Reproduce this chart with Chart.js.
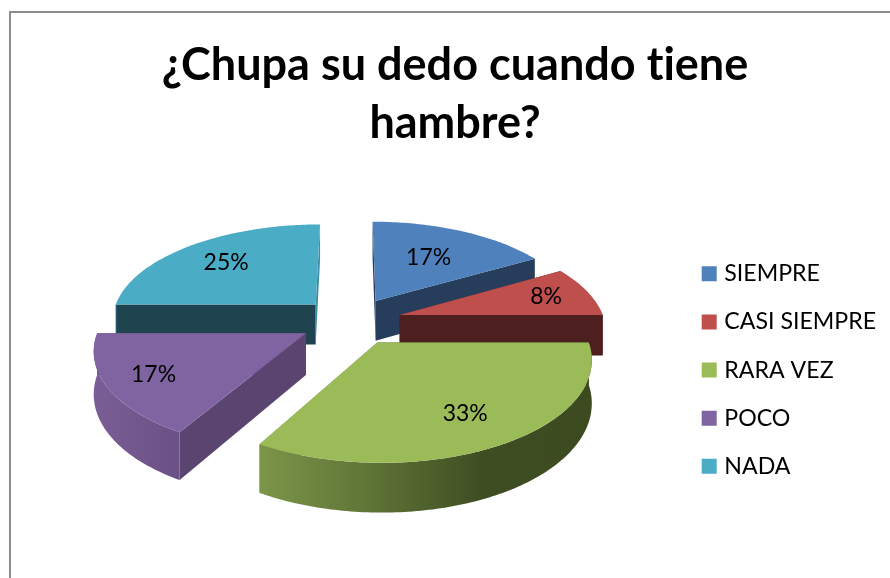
<!DOCTYPE html>
<html>
<head>
<meta charset="utf-8">
<style>html,body{margin:0;padding:0;background:#fff}canvas{display:block}</style>
<script src="https://cdn.jsdelivr.net/npm/chart.js@4/dist/chart.umd.min.js"></script>
</head>
<body>
<div style="width:890px;height:578px"><canvas id="c" width="890" height="578"></canvas></div>
<script>
const categories = ["SIEMPRE", "CASI SIEMPRE", "RARA VEZ", "POCO", "NADA"];
const counts = [2, 1, 4, 2, 3];
const titleLines = ["¿Chupa su dedo cuando tiene", "hambre?"];

const topColors = ["#4F81BD", "#BE4F4C", "#9BBB59", "#8064A2", "#4BACC6"];
const startCutColors = ["#263E5C", "#5A2422", "#4B5C2B", "#5A4470", "#1F4450"];
const endCutColors = ["#263E5C", "#4D1F1E", "#7C9549", "#5A4470", "#3F8EA5"];
const rimStops = [
  ["#263E5C", "#263E5C"],
  ["#5A2422", "#5A2422"],
  ["#7C9549", "#5F7436", "#3F4E22", "#3D4A20"],
  ["#7A5E96", "#6A5084"],
  ["#3F8EA5", "#3F8EA5"]
];
const labelRadii = [0.59, 0.775, 0.73, 0.78, 0.695];

const SCENE = { radius: 205, tilt: 0.469, persp: 0.000706, depth: 41, dx: -1.5, dy: -49 };

function project(sc, X, Y, z) {
  const s = 1 / (1 - SCENE.persp * Y);
  return [sc.cx + X * s, sc.cy + (SCENE.tilt * Y + z) * s];
}
function poly(ctx, pts, fill) {
  ctx.beginPath();
  pts.forEach((p, i) => i ? ctx.lineTo(p[0], p[1]) : ctx.moveTo(p[0], p[1]));
  ctx.closePath();
  ctx.fillStyle = fill;
  ctx.fill();
}

const framePlugin = {
  id: "frame",
  beforeDraw(chart) {
    const ctx = chart.ctx;
    ctx.letterSpacing = "0.01px";
    ctx.save();
    ctx.strokeStyle = "#8C8C8C";
    ctx.lineWidth = 2;
    ctx.beginPath();
    ctx.moveTo(10, 578);
    ctx.lineTo(10, 12);
    ctx.lineTo(890, 12);
    ctx.stroke();
    ctx.restore();
  }
};

const pie3d = {
  id: "pie3d",
  beforeDatasetDraw(chart) {
    const ctx = chart.ctx;
    const arcs = chart.getDatasetMeta(0).data;
    const total = counts.reduce((a, b) => a + b, 0);
    const items = arcs.map((arc, i) => {
      const k = SCENE.radius / arc.outerRadius;
      const d = arc.options.offset * k;
      const mid = (arc.startAngle + arc.endAngle) / 2;
      return { i, arc, mid, r: arc.outerRadius * k,
        ox: Math.cos(mid) * d, oy: Math.sin(mid) * d,
        sc: { cx: arc.x + SCENE.dx, cy: arc.y + SCENE.dy } };
    });
    const order = items.slice().sort((a, b) => Math.sin(a.mid) - Math.sin(b.mid));
    ctx.save();
    order.forEach(it => {
      const { arc, ox, oy, r, sc, i } = it;
      const n = Math.max(2, Math.ceil((arc.endAngle - arc.startAngle) * 60));
      const angles = [];
      for (let j = 0; j <= n; j++) angles.push(arc.startAngle + (arc.endAngle - arc.startAngle) * j / n);
      const at = (a, z) => project(sc, ox + Math.cos(a) * r, oy + Math.sin(a) * r, z);
      const topRim = angles.map(a => at(a, 0));
      const a0 = project(sc, ox, oy, 0), a1 = project(sc, ox, oy, SCENE.depth);
      const first = angles[0], last = angles[n];
      poly(ctx, [a0, at(first, 0), at(first, SCENE.depth), a1], startCutColors[i]);
      poly(ctx, [a0, at(last, 0), at(last, SCENE.depth), a1], endCutColors[i]);
      const front = angles.filter(a => Math.sin(a) >= -0.02);
      if (front.length > 1) {
        const up = front.map(a => at(a, 0));
        const down = front.map(a => at(a, SCENE.depth)).reverse();
        const xs = up.map(p => p[0]);
        const g = ctx.createLinearGradient(Math.min(...xs), 0, Math.max(...xs), 0);
        rimStops[i].forEach((c, j) => g.addColorStop(j / (rimStops[i].length - 1), c));
        poly(ctx, up.concat(down), g);
      }
      poly(ctx, [a0].concat(topRim), topColors[i]);
    });
    ctx.fillStyle = "#000";
    ctx.font = "23px Lato";
    ctx.textAlign = "center";
    ctx.textBaseline = "middle";
    items.forEach(it => {
      const f = labelRadii[it.i];
      const p = project(it.sc, it.ox + Math.cos(it.mid) * it.r * f, it.oy + Math.sin(it.mid) * it.r * f, 0);
      ctx.fillText(Math.round(counts[it.i] / total * 100) + "%", p[0], p[1]);
    });
    ctx.restore();
    return false;
  }
};

Chart.defaults.animation = false;
new Chart(document.getElementById("c"), {
  type: "pie",
  data: {
    labels: categories,
    datasets: [{ data: counts, backgroundColor: topColors, borderWidth: 0, offset: 46 }]
  },
  options: {
    responsive: false,
    animation: false,
    layout: { padding: { left: 24, right: 4, top: 36, bottom: 0 } },
    plugins: {
      tooltip: { enabled: false },
      title: {
        display: true,
        text: titleLines,
        color: "#000",
        font: { family: "Lato", size: 45, weight: "bold", lineHeight: 1.29 },
        padding: { top: 0, bottom: 10 }
      },
      legend: {
        position: "right",
        fullSize: false,
        labels: {
          color: "#000",
          font: { family: "Lato", size: 23.15 },
          usePointStyle: true,
          pointStyle: "rect",
          boxWidth: 7,
          boxHeight: 15,
          padding: 25
        }
      }
    }
  },
  plugins: [framePlugin, pie3d]
});
</script>
</body>
</html>
